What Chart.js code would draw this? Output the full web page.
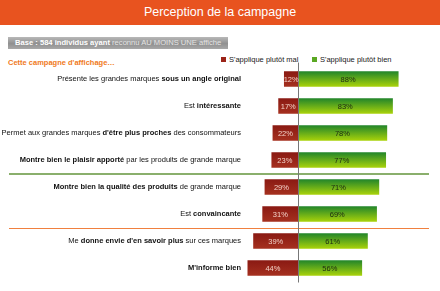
<!DOCTYPE html>
<html>
<head>
<meta charset="utf-8">
<script src="https://cdn.jsdelivr.net/npm/chart.js@4.4.0/dist/chart.umd.min.js"></script>
<style>
  body { margin: 0; background: #fff; font-family: "Liberation Sans", Arial, sans-serif; }
  #wrap { position: relative; width: 440px; height: 291px; overflow: hidden; }
  #titre { position: absolute; left: 0; top: 0; width: 440px; height: 25px; background: #e8531f;
           color: #fff; font-size: 12.5px; line-height: 25px; text-align: center; }
  #base { position: absolute; left: 8px; top: 37px; width: 220px; height: 12px;
          background: linear-gradient(to bottom, #b8b8b8, #909090 55%, #a8a8a8);
          color: #fff; font-size: 7.6px; line-height: 12px; padding-left: 7px; box-sizing: border-box; white-space: nowrap; }
  #base span { color: #e4e4e4; font-weight: normal; }
  #sous { position: absolute; left: 8px; top: 58px; color: #f07a22; font-weight: bold; font-size: 7.5px; }
  .leg { position: absolute; top: 55px; font-size: 7.5px; color: #1a1a1a; white-space: nowrap; }
  .leg i { display: inline-block; width: 5px; height: 5px; margin-right: 3px; vertical-align: 0px; }
  canvas { position: absolute; left: 0; top: 0; }
</style>
</head>
<body>
<div id="wrap">
  <div id="titre">Perception de la campagne</div>
  <div id="base"><b>Base : 584 individus ayant </b><span>reconnu AU MOINS UNE affiche</span></div>
  <div id="sous">Cette campagne d'affichage…</div>
  <div class="leg" style="left:221px"><i style="background:#9b2318"></i>S'applique plutôt mal</div>
  <div class="leg" style="left:312px"><i style="background:#5aa823"></i>S'applique plutôt bien</div>
  <canvas id="myChart" width="440" height="291"></canvas>
</div>
<script>
// libellés (les parties entre ** sont en gras)
var categories = [
    "Présente les grandes marques **sous un angle original**",
    "Est **intéressante**",
    "Permet aux grandes marques **d'être plus proches** des consommateurs",
    "**Montre bien le plaisir apporté** par les produits de grande marque",
    "**Montre bien la qualité des produits** de grande marque",
    "Est **convaincante**",
    "Me **donne envie d'en savoir plus** sur ces marques",
    "**M'informe bien**"
];
var plutotMal = [12, 17, 22, 23, 29, 31, 39, 44];
var plutotBien = [88, 83, 78, 77, 71, 69, 61, 56];
var separations = [4, 6]; // ligne avant ces lignes
var couleursSep = ['#8aaf6c', '#f0803f'];

function degrade(ctx, c1, c2) {
    var chart = ctx.chart;
    if (!chart.chartArea) return c2;
    var y = chart.scales.y.getPixelForValue(ctx.dataIndex);
    var g = chart.ctx.createLinearGradient(0, y - 7.5, 0, y + 7.5);
    g.addColorStop(0, c1);
    g.addColorStop(1, c2);
    return g;
}

var decor = {
    id: 'decor',
    beforeDatasetsDraw: function (chart) {
        var c = chart.ctx, y = chart.scales.y;
        c.save();
        separations.forEach(function (s, k) {
            var py = Math.round((y.getPixelForValue(s - 1) + y.getPixelForValue(s)) / 2);
            c.strokeStyle = couleursSep[k];
            c.lineWidth = k == 0 ? 2 : 1;
            if (k == 1) py += 0.5;
            c.beginPath();
            c.moveTo(9, py);
            c.lineTo(429, py);
            c.stroke();
        });
        c.restore();
    },
    afterDatasetsDraw: function (chart) {
        var c = chart.ctx, x = chart.scales.x, y = chart.scales.y, a = chart.chartArea;
        c.save();
        // axe central
        var x0 = Math.round(x.getPixelForValue(0)) + 0.5;
        c.strokeStyle = '#777';
        c.lineWidth = 1;
        c.beginPath();
        c.moveTo(x0, a.top - 3);
        c.lineTo(x0, a.bottom + 1);
        c.stroke();

        // libellés avec parties en gras
        c.textBaseline = 'middle';
        categories.forEach(function (lib, i) {
            var py = y.getPixelForValue(i);
            var parts = lib.split('**');
            var widths = parts.map(function (p, k) {
                c.font = (k % 2 ? 'bold ' : '') + '7.5px "Liberation Sans", Arial';
                return c.measureText(p).width;
            });
            var tot = widths.reduce(function (s, w) { return s + w; }, 0);
            var px = 241 - tot;
            c.fillStyle = '#111';
            parts.forEach(function (p, k) {
                c.font = (k % 2 ? 'bold ' : '') + '7.5px "Liberation Sans", Arial';
                c.textAlign = 'left';
                c.fillText(p, px, py);
                px += widths[k];
            });
        });

        // valeurs dans les barres
        c.font = '7.5px "Liberation Sans", Arial';
        c.textAlign = 'center';
        chart.data.datasets.forEach(function (ds, d) {
            chart.getDatasetMeta(d).data.forEach(function (bar, i) {
                var v = Math.abs(ds.data[i]);
                c.fillStyle = d == 0 ? '#f3d2c8' : '#1d2a10';
                c.fillText(v + '%', (bar.x + bar.base) / 2, bar.y + 0.5);
            });
        });
        c.restore();
    }
};

var ctx = document.getElementById('myChart').getContext('2d');
var myChart = new Chart(ctx, {
    type: 'bar',
    data: {
        labels: categories,
        datasets: [{
            label: "S'applique plutôt mal",
            data: plutotMal.map(function (v) { return -v; }),
            backgroundColor: function (c) { return degrade(c, '#8a1a13', '#a5301f'); },
            barThickness: 15
        }, {
            label: "S'applique plutôt bien",
            data: plutotBien,
            backgroundColor: function (c) { return degrade(c, '#23862a', '#a8d20a'); },
            barThickness: 15
        }]
    },
    options: {
        indexAxis: 'y',
        responsive: false,
        animation: false,
        layout: { padding: { left: 241, right: 11, top: 65.5, bottom: 9.5 } },
        plugins: { legend: { display: false }, tooltip: { enabled: false } },
        scales: {
            x: { stacked: true, min: -50, max: 115, display: false },
            y: { stacked: true, display: false }
        }
    },
    plugins: [decor]
});
</script>
</body>
</html>
